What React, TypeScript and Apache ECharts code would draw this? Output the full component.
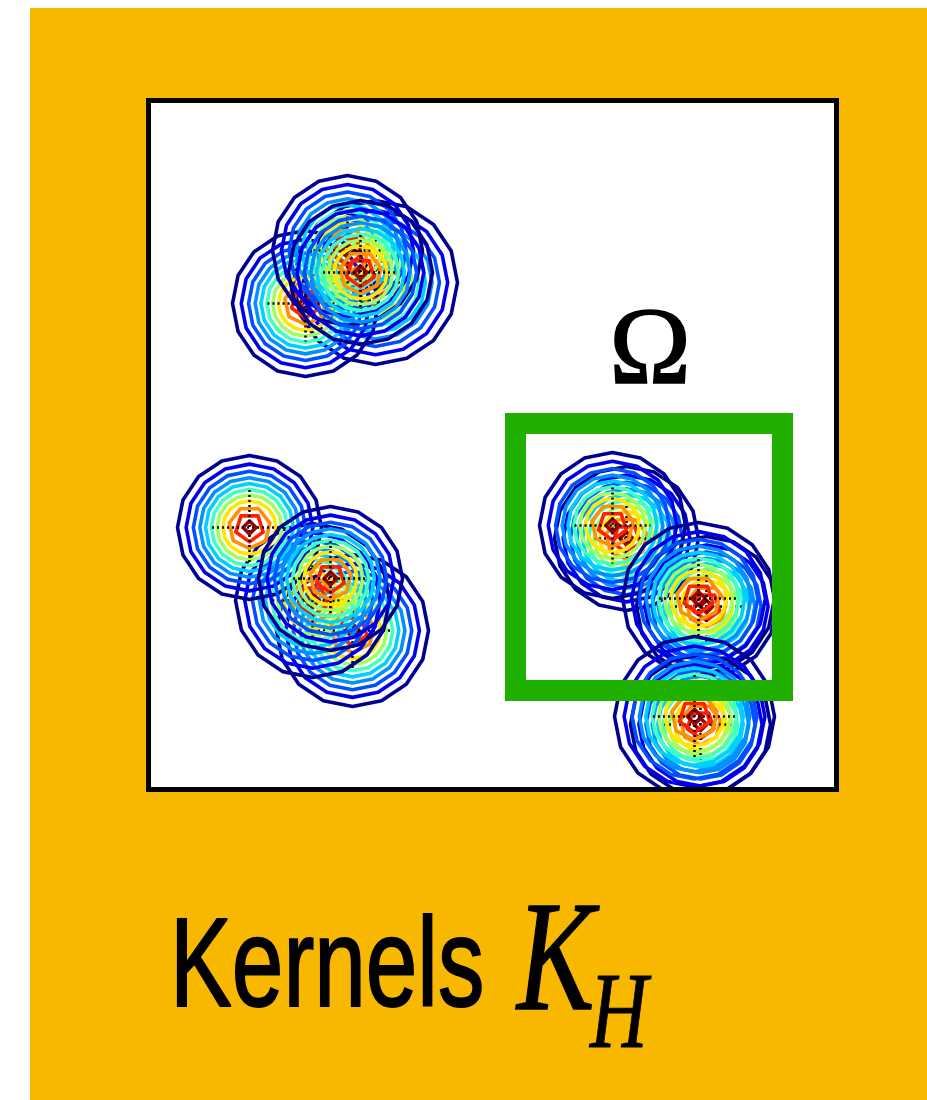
import React, { useEffect, useRef } from "react";
import * as echarts from "echarts";

// Kernel centres and outer contour radius, in plot units (x right, y down).
// Listed back to front: later kernels are drawn over earlier ones.
const kernelX = [227, 157, 199, 212, 204, 164, 101, 182, 478, 464, 558, 550, 552, 546];
const kernelY = [182, 203, 150, 172, 530, 500, 427, 478, 438, 425, 506, 498, 624, 616];
const kernelR = [82, 73, 75, 72, 76, 77, 72, 72, 72, 73, 70, 76, 70, 80];

// Contour levels: relative radius of each ring, outermost first, with its colour.
const levelRadius = [1.0, 0.88, 0.78, 0.69, 0.61, 0.53, 0.45, 0.37, 0.29, 0.2, 0.09];
const levelColor = [
  "#000090", "#0000E8", "#0050FF", "#0090FF", "#00D0FF", "#40FFC0",
  "#A0FF60", "#FFE800", "#FF9000", "#FF2000", "#A00000",
];

// Window Ω: [x0, y0, x1, y1] in plot units.
const omegaRegion = [367, 323, 634, 590];
const omegaLabel = "Ω";
const titleWord = "Kernels";
const titleSymbol = "K";
const titleSub = "H";

const PLOT_W = 688;
const PLOT_H = 689;
const SIDES = 16;

export default function App() {
  const ref = useRef<HTMLDivElement>(null);

  useEffect(() => {
    if (!ref.current) return;
    const chart = echarts.init(ref.current, null, { renderer: "svg" });

    const kernels = kernelX.map((x, i) => [x, kernelY[i], kernelR[i]]);

    const option: any = {
      animation: false,
      grid: { left: 148.5, top: 100.5, width: PLOT_W, height: PLOT_H, show: false },
      xAxis: { type: "value", min: 0, max: PLOT_W, show: false },
      yAxis: { type: "value", min: 0, max: PLOT_H, inverse: true, show: false },
      graphic: [
        {
          type: "rect",
          z: -10,
          shape: { x: 30, y: 8, width: 897, height: 1092 },
          style: { fill: "#F8B800" },
        },
        {
          type: "rect",
          z: -5,
          shape: { x: 148.5, y: 100.5, width: PLOT_W, height: PLOT_H },
          style: { fill: "#FFFFFF" },
        },
        {
          type: "rect",
          z: 100,
          shape: { x: 148.5, y: 100.5, width: PLOT_W, height: PLOT_H },
          style: { fill: "none", stroke: "#000000", lineWidth: 5 },
        },
        {
          type: "text",
          z: 100,
          x: 170,
          y: 962,
          scaleX: 0.73,
          style: {
            text: titleWord,
            x: 0,
            y: 0,
            fontSize: 127,
            fontFamily: '"Liberation Sans", Arial, sans-serif',
            fill: "#000",
            stroke: "#000",
            lineWidth: 2,
            align: "left",
            verticalAlign: "middle",
          },
        },
        {
          type: "text",
          z: 100,
          x: 517,
          y: 956,
          scaleX: 0.74,
          style: {
            text: titleSymbol,
            x: 0,
            y: 0,
            fontSize: 157,
            fontStyle: "italic",
            fontFamily: '"Liberation Serif", "Times New Roman", serif',
            fill: "#000",
            stroke: "#000",
            lineWidth: 1.5,
            align: "left",
            verticalAlign: "middle",
          },
        },
        {
          type: "text",
          z: 100,
          x: 590,
          y: 1011,
          scaleX: 0.74,
          style: {
            text: titleSub,
            x: 0,
            y: 0,
            fontSize: 108,
            fontStyle: "italic",
            fontFamily: '"Liberation Serif", "Times New Roman", serif',
            fill: "#000",
            stroke: "#000",
            lineWidth: 1,
            align: "left",
            verticalAlign: "middle",
          },
        },
      ],
      series: [
        {
          type: "custom",
          name: "kernels",
          coordinateSystem: "cartesian2d",
          clip: true,
          z: 2,
          data: kernels,
          encode: { x: 0, y: 1 },
          renderItem: (params: any, api: any) => {
            const c = api.coord([api.value(0), api.value(1)]);
            const r = Math.abs(api.size([api.value(2), 0])[0]);
            const children: any[] = [];
            levelRadius.forEach((f, li) => {
              const rr = r * f;
              const n = f < 0.15 ? 4 : f < 0.25 ? 5 : f < 0.33 ? 7 : SIDES;
              const pts: number[][] = [];
              for (let k = 0; k < n; k++) {
                const a = (k / n) * Math.PI * 2 + Math.PI / 2;
                pts.push([c[0] + rr * Math.cos(a), c[1] + rr * Math.sin(a)]);
              }
              children.push({
                type: "polygon",
                shape: { points: pts },
                style: { fill: "none", stroke: levelColor[li], lineWidth: 3.6, lineJoin: "round" },
              });
            });
            const h = r * 0.52;
            children.push({
              type: "line",
              shape: { x1: c[0] - h, y1: c[1], x2: c[0] + h, y2: c[1] },
              style: { stroke: "#000", lineWidth: 2.5, lineDash: [2, 3] },
            });
            children.push({
              type: "line",
              shape: { x1: c[0], y1: c[1] - h, x2: c[0], y2: c[1] + h },
              style: { stroke: "#000", lineWidth: 2.5, lineDash: [2, 3] },
            });
            return { type: "group", children };
          },
        },
        {
          type: "custom",
          name: "omega",
          coordinateSystem: "cartesian2d",
          clip: false,
          z: 5,
          data: [omegaRegion],
          encode: { x: [0, 2], y: [1, 3] },
          renderItem: (params: any, api: any) => {
            const p0 = api.coord([api.value(0), api.value(1)]);
            const p1 = api.coord([api.value(2), api.value(3)]);
            const x = Math.min(p0[0], p1[0]);
            const y = Math.min(p0[1], p1[1]);
            const w = Math.abs(p1[0] - p0[0]);
            const hh = Math.abs(p1[1] - p0[1]);
            return {
              type: "group",
              children: [
                {
                  type: "rect",
                  shape: { x, y, width: w, height: hh },
                  style: { fill: "none", stroke: "#20B000", lineWidth: 21 },
                },
                {
                  type: "text",
                  style: {
                    text: omegaLabel,
                    x: x + w / 2 + 1,
                    y: y - 78,
                    fontSize: 110,
                    fontFamily: '"Liberation Serif", "Times New Roman", serif',
                    fill: "#000",
                    stroke: "#000",
                    lineWidth: 1.5,
                    align: "center",
                    verticalAlign: "middle",
                  },
                },
              ],
            };
          },
        },
      ],
    };

    chart.setOption(option);
    return () => chart.dispose();
  }, []);

  return (
    <div
      ref={ref}
      style={{ position: "absolute", left: 0, top: 0, width: 927, height: 1100 }}
    />
  );
}
